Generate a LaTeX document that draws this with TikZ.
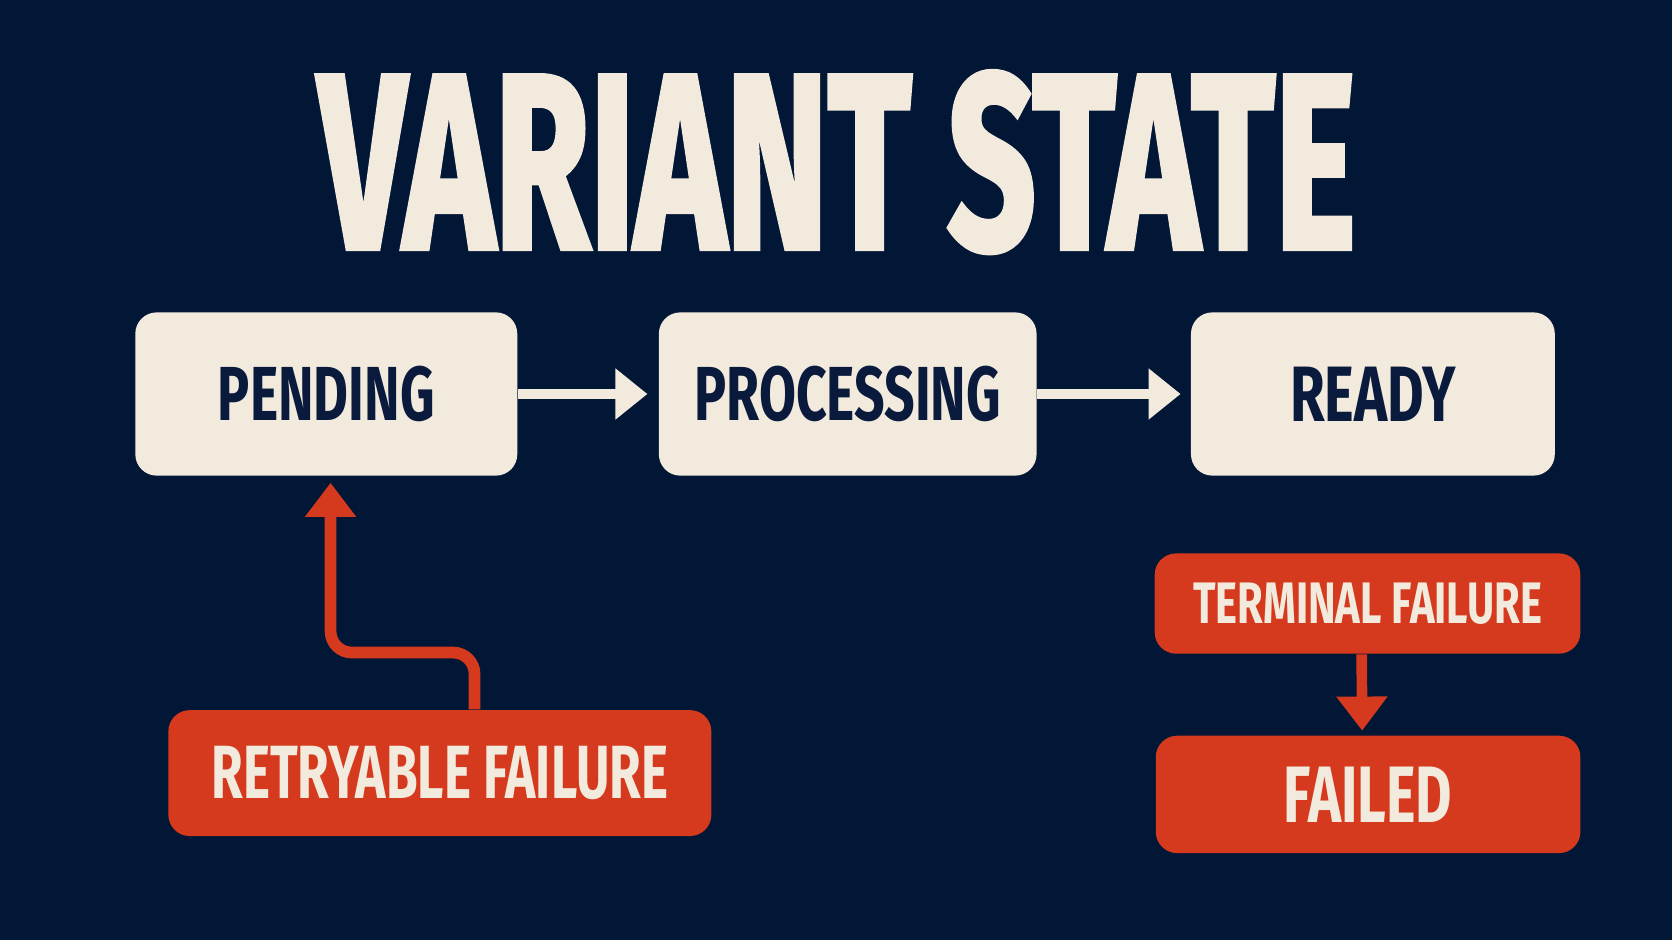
\documentclass[tikz,border=0pt]{standalone}
\usepackage{fontspec}
\setmainfont{Fira Sans}
\newfontfamily\titlefont{Fira Sans}[FakeBold=2.5]
\usetikzlibrary{arrows.meta}
\definecolor{navybg}{RGB}{2,22,54}
\definecolor{navytext}{RGB}{10,26,60}
\definecolor{cream}{RGB}{242,235,221}
\definecolor{failred}{RGB}{214,58,30}
\newcommand{\fitlbl}[3]{\resizebox{#1}{#2}{\bfseries #3}}
\begin{document}
\begin{tikzpicture}[x=0.01cm, y=-0.01cm,
  statebox/.style={rectangle, rounded corners=0.2cm, fill=cream, text=navytext, inner sep=0pt, minimum height=1.53cm},
  failbox/.style={rectangle, rounded corners=0.2cm, fill=failred, text=cream, inner sep=0pt},
  flowarrow/.style={draw=cream, line width=0.1cm, -{Triangle[length=0.3cm, width=0.46cm]}},
  failarrow/.style={draw=failred, line width=0.11cm, -{Triangle[length=0.32cm, width=0.46cm]}}]
\fill[navybg] (0,0) rectangle (1568,882);

\node[text=cream] (title) at (785,152) {\titlefont\fitlbl{9.72cm}{1.65cm}{VARIANT STATE}};

\node[statebox, minimum width=3.58cm] (pending) at (306,369.5) {\fitlbl{2.03cm}{0.51cm}{PENDING}};
\node[statebox, minimum width=3.54cm] (processing) at (795,369.5) {\fitlbl{2.87cm}{0.51cm}{PROCESSING}};
\node[statebox, minimum width=3.41cm] (ready) at (1287.5,369.5) {\fitlbl{1.55cm}{0.51cm}{READY}};

\node[failbox, minimum width=5.09cm, minimum height=1.18cm] (retry) at (412.5,725) {\fitlbl{4.28cm}{0.49cm}{RETRYABLE FAILURE}};
\node[failbox, minimum width=3.99cm, minimum height=0.94cm] (terminal) at (1282.5,566) {\fitlbl{3.27cm}{0.38cm}{TERMINAL FAILURE}};
\node[failbox, minimum width=3.98cm, minimum height=1.1cm] (failed) at (1283,745) {\fitlbl{1.58cm}{0.52cm}{FAILED}};

\coordinate (turn) at (310,612);

\draw[flowarrow, shorten >=0.1cm] (pending) -- (processing);
\draw[flowarrow, shorten >=0.09cm] (processing) -- (ready);

\draw[failarrow, rounded corners=0.2cm, shorten >=0.06cm] ([xshift=0.325cm]retry.north) |- (turn) -- (turn |- pending.south);
\draw[failarrow, line width=0.1cm, shorten >=0.04cm] ([xshift=-0.055cm]terminal.south) -- ([xshift=-0.055cm]failed.north);

\end{tikzpicture}
\end{document}
